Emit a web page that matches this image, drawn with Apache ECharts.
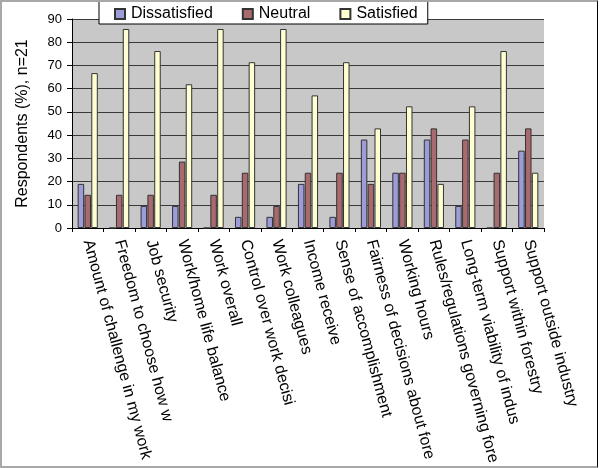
<!DOCTYPE html>
<html><head><meta charset="utf-8">
<script src="https://cdn.jsdelivr.net/npm/echarts@6/dist/echarts.min.js"></script>
<style>
html,body{margin:0;padding:0;background:#fff;}
#frame{position:absolute;left:0;top:0;width:598px;height:468px;box-sizing:border-box;border-left:2px solid #a8a8a8;border-top:2px solid #a8a8a8;border-bottom:2px solid #a8a8a8;border-right:1px solid #000;}
#c{position:absolute;left:0;top:0;width:600px;height:468px;}
</style></head>
<body>
<div id="c"></div>
<div id="frame"></div>
<script>
const categories = [
  "Amount of challenge in my work",
  "Freedom to choose how w",
  "Job security",
  "Work/home life balance",
  "Work overall",
  "Control over work decisi",
  "Work colleagues",
  "Income receive",
  "Sense of accomplishment",
  "Fairness of decisions about fore",
  "Working hours",
  "Rules/regulations governing fore",
  "Long-term viability of indus",
  "Support within forestry",
  "Support outside industry"
];
const dissatisfied = [19.0, 0, 9.5, 9.5, 0, 4.8, 4.8, 19.0, 4.8, 38.1, 23.8, 38.1, 9.5, 0, 33.3];
const neutral      = [14.3, 14.3, 14.3, 28.6, 14.3, 23.8, 9.5, 23.8, 23.8, 19.0, 23.8, 42.9, 38.1, 23.8, 42.9];
const satisfied    = [66.7, 85.7, 76.2, 61.9, 85.7, 71.4, 85.7, 57.1, 71.4, 42.9, 52.4, 19.0, 52.4, 76.2, 23.8];
const yTicks = { min: 0, max: 90, interval: 10 };

const FONT = "Liberation Sans, Arial, sans-serif";
const chart = echarts.init(document.getElementById('c'), null, {renderer: 'canvas'});
const barStyle = (c) => ({ color: c, borderColor: '#333', borderWidth: 1 });
chart.setOption({
  animation: false,
  textStyle: { fontFamily: FONT },
  grid: { left: 72, right: 56, top: 19, bottom: 240, show: true, backgroundColor: '#c8c8c8', borderWidth: 0 },
  legend: {
    top: -4, left: 99,
    data: ['Dissatisfied', 'Neutral', 'Satisfied'],
    backgroundColor: '#fff', borderColor: '#000', borderWidth: 1,
    padding: [10, 10, 2, 15],
    itemWidth: 10, itemHeight: 10, itemGap: 29,
    icon: 'rect',
    textStyle: { fontFamily: FONT, fontSize: 16, color: '#000', padding: [0,0,0,1] }
  },
  xAxis: {
    type: 'category', data: categories,
    axisLine: { lineStyle: { color: '#000', width: 1 } },
    axisTick: { show: true, length: 4, lineStyle: { color: '#000' }, alignWithLabel: false },
    axisLabel: { rotate: -75, interval: 0, fontSize: 16, color: '#000', margin: 12, fontFamily: FONT }
  },
  yAxis: {
    type: 'value', min: yTicks.min, max: yTicks.max, interval: yTicks.interval,
    name: 'Respondents (%), n=21', nameLocation: 'middle', nameGap: 41,
    nameTextStyle: { fontSize: 16, color: '#000', fontFamily: FONT },
    axisLine: { show: true, lineStyle: { color: '#000' } },
    axisTick: { show: true, length: 5, lineStyle: { color: '#000' } },
    axisLabel: { fontSize: 13, color: '#000', margin: 10, fontFamily: FONT },
    splitLine: { show: true, lineStyle: { color: '#3a3a3a', width: 1 } }
  },
  series: [
    { name: 'Dissatisfied', type: 'bar', data: dissatisfied, barWidth: 6.5, barGap: '5%', itemStyle: barStyle('#9c9cd8') },
    { name: 'Neutral', type: 'bar', data: neutral, barWidth: 6.5, barGap: '5%', itemStyle: barStyle('#a86a6e') },
    { name: 'Satisfied', type: 'bar', data: satisfied, barWidth: 6.5, barGap: '5%', itemStyle: barStyle('#ffffd2') }
  ]
});
</script>
</body></html>
